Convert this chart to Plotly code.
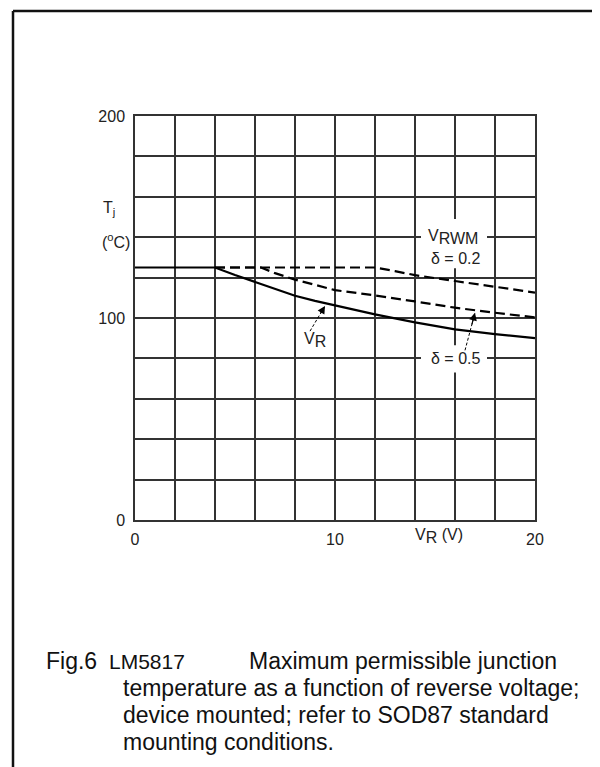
import plotly.graph_objects as go

# ---- data ----
vr_v = [0, 4, 5, 6, 7, 8, 9, 10, 12, 14, 16, 18, 20]
vr_t = [125, 125, 121.3, 117.8, 114.2, 111, 108.5, 106.2, 101.8, 97.8, 94.4, 92, 90]

d02_v = [4, 12, 13, 14, 16, 18, 20]
d02_t = [125, 125, 123.2, 121.2, 118.3, 115.5, 112.6]

d05_v = [4, 6.3, 7, 8, 10, 12, 14, 16, 18, 20]
d05_t = [125, 125, 122.2, 119, 113.8, 111.2, 108.2, 105.1, 102.6, 100.3]

x_ticks = [0, 10, 20]
y_ticks = [0, 100, 200]

# arrow annotations: (head_v, head_t, tail_v, tail_t)
arrow_vr = [9.5, 106.0, 8.75, 93.5]
arrow_d05 = [17.0, 102.6, 16.5, 84.0]

caption_fig = "Fig.6"
caption_dev = "LM5817"
caption_lines = [
    "Maximum permissible junction",
    "temperature as a function of reverse voltage;",
    "device mounted; refer to SOD87 standard",
    "mounting conditions.",
]

FONT = "Liberation Sans, Arial, sans-serif"
W, H = 600, 767
PL, PT, PW, PH = 127, 108, 400, 404


def px(x):
    return (x - PL) / PW


def py(y):
    return (PT + PH - y) / PH


fig = go.Figure()

fig.add_trace(go.Scatter(x=vr_v, y=vr_t, mode="lines",
                         line=dict(color="black", width=2.2), hoverinfo="skip"))
fig.add_trace(go.Scatter(x=d02_v, y=d02_t, mode="lines",
                         line=dict(color="black", width=2.2, dash="10px,5px"), hoverinfo="skip"))
fig.add_trace(go.Scatter(x=d05_v, y=d05_t, mode="lines",
                         line=dict(color="black", width=2.2, dash="10px,5px"), hoverinfo="skip"))

# dashed arrow shafts + heads
for a in (arrow_vr, arrow_d05):
    fig.add_trace(go.Scatter(x=[a[2], a[0]], y=[a[3], a[1]], mode="lines",
                             line=dict(color="black", width=1, dash="3px,2px"),
                             hoverinfo="skip"))
    fig.add_annotation(x=a[0], y=a[1], ax=a[0] - (a[0] - a[2]) * 0.35,
                       ay=a[1] - (a[1] - a[3]) * 0.35, xref="x", yref="y",
                       axref="x", ayref="y", showarrow=True, arrowhead=2,
                       arrowsize=1.3, arrowwidth=1.2, arrowcolor="black", text="")

# white boxes behind the curve labels (hide grid lines)
fig.add_shape(type="rect", xref="x", yref="y", x0=14.3, x1=17.6, y0=124.6, y1=149,
              fillcolor="white", line=dict(width=0), layer="between")
fig.add_shape(type="rect", xref="x", yref="y", x0=14.3, x1=17.6, y0=73, y1=86.5,
              fillcolor="white", line=dict(width=0), layer="between")

lab_font = dict(family=FONT, size=16, color="#222")
fig.add_annotation(x=15.9, y=140.2, xref="x", yref="y", showarrow=False,
                   text='V<sub><span style="font-size:16px">RWM</span></sub>', font=lab_font)
fig.add_annotation(x=16.0, y=129.6, xref="x", yref="y", showarrow=False,
                   text="δ = 0.2", font=lab_font)
fig.add_annotation(x=16.0, y=80.2, xref="x", yref="y", showarrow=False,
                   text="δ = 0.5", font=lab_font)
fig.add_annotation(x=9.0, y=89, xref="x", yref="y", showarrow=False,
                   text='V<sub><span style="font-size:16px">R</span></sub>', font=lab_font)

# axis titles
fig.add_annotation(x=15.2, y=py(516), xref="x", yref="paper", yanchor="top",
                   showarrow=False,
                   text='V<sub><span style="font-size:16px">R</span></sub> (V)', font=lab_font)
fig.add_annotation(x=px(93), y=py(189), xref="paper", yref="paper", showarrow=False,
                   text="T<sub>j</sub>", font=lab_font)
fig.add_annotation(x=px(92), y=py(221), xref="paper", yref="paper", showarrow=False,
                   text="(<sup>o</sup>C)", font=lab_font)

# caption
cap_font = dict(family=FONT, size=23, color="#111")
fig.add_annotation(x=px(36), y=py(668), xref="paper", yref="paper", xanchor="left",
                   showarrow=False, text=caption_fig, font=cap_font)
fig.add_annotation(x=px(99), y=py(667), xref="paper", yref="paper", xanchor="left",
                   showarrow=False, text=caption_dev,
                   font=dict(family=FONT, size=21, color="#111"))
line_x = [239, 113, 113, 113]
line_y = [668, 695, 722, 749]
for t, lx, ly in zip(caption_lines, line_x, line_y):
    fig.add_annotation(x=px(lx), y=py(ly), xref="paper", yref="paper", xanchor="left",
                       showarrow=False, text=t, font=cap_font)

# outer frame
fig.add_shape(type="line", xref="paper", yref="paper", x0=px(5), x1=px(600),
              y0=py(3), y1=py(3), line=dict(color="#111", width=2.5))
fig.add_shape(type="line", xref="paper", yref="paper", x0=px(5), x1=px(5),
              y0=py(3), y1=py(766), line=dict(color="#111", width=2.5))
fig.add_shape(type="line", xref="paper", yref="paper", x0=px(5), x1=px(600),
              y0=py(766), y1=py(766), line=dict(color="#aaa", width=1.5))

grid_c = "#333"
fig.update_xaxes(range=[0, 20], tickvals=x_ticks, ticktext=[str(v) for v in x_ticks],
                 showgrid=True, gridcolor=grid_c, gridwidth=1.5,
                 minor=dict(dtick=2, showgrid=True, gridcolor=grid_c, gridwidth=1.5),
                 showline=True, mirror=True, linecolor=grid_c, linewidth=1.5,
                 ticks="", ticklabelstandoff=4, zeroline=False,
                 tickfont=dict(family=FONT, size=16, color="#222"), fixedrange=True)
fig.update_yaxes(range=[0, 200], tickvals=y_ticks, ticktext=[str(v) for v in y_ticks],
                 showgrid=True, gridcolor=grid_c, gridwidth=1.5,
                 minor=dict(dtick=20, showgrid=True, gridcolor=grid_c, gridwidth=1.5),
                 showline=True, mirror=True, linecolor=grid_c, linewidth=1.5,
                 ticks="", ticklabelstandoff=5, zeroline=False,
                 tickfont=dict(family=FONT, size=16, color="#222"), fixedrange=True)

fig.update_layout(width=W, height=H, margin=dict(l=PL, r=W - PL - PW, t=PT, b=H - PT - PH),
                  paper_bgcolor="white", plot_bgcolor="white", showlegend=False)

fig.write_html("out.html")
